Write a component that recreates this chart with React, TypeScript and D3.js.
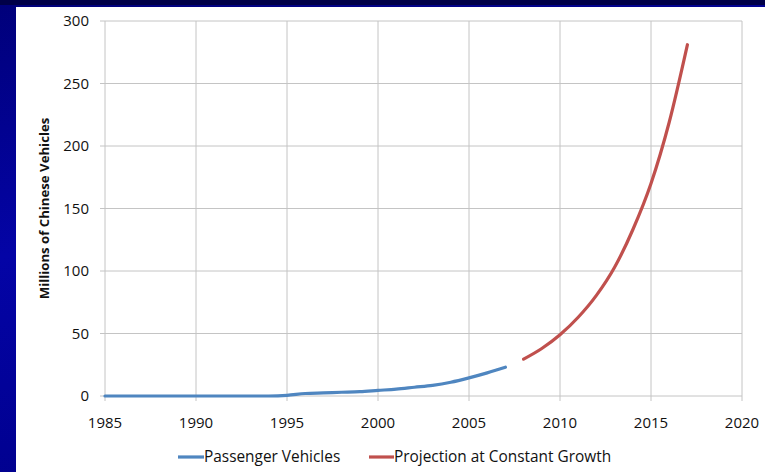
import React from "react";
import * as d3 from "d3";

const passengerYears = [1985, 1986, 1987, 1988, 1989, 1990, 1991, 1992, 1993, 1994, 1995, 1996, 1997, 1998, 1999, 2000, 2001, 2002, 2003, 2004, 2005, 2006, 2007];
const passengerValues = [0, 0, 0, 0, 0, 0, 0, 0, 0, 0, 0.5, 2, 2.5, 3, 3.5, 4.5, 5.5, 7, 8.5, 11, 14.5, 18.5, 23];
const projectionYears = [2008, 2009, 2010, 2011, 2012, 2013, 2014, 2015, 2016, 2017];
const projectionValues = [29.5, 38, 49, 63, 80.5, 103, 133, 170, 219, 281];
const xTicks = [1985, 1990, 1995, 2000, 2005, 2010, 2015, 2020];
const yTicks = [0, 50, 100, 150, 200, 250, 300];
const seriesNames = ["Passenger Vehicles", "Projection at Constant Growth"];

const W = 765, H = 472;
const font = "'Open Sans', 'Liberation Sans', sans-serif";

export default function App() {
  const x = d3.scaleLinear().domain([1985, 2020]).range([105, 742]);
  const y = d3.scaleLinear().domain([0, 300]).range([396, 21]);
  const line = d3.line<[number, number]>().x(d => x(d[0])).y(d => y(d[1])).curve(d3.curveMonotoneX);
  const blue = "#4f86c0";
  const red = "#c0504d";
  const grid = "#c4c4c4";
  const pData = passengerYears.map((yr, i) => [yr, passengerValues[i]] as [number, number]);
  const rData = projectionYears.map((yr, i) => [yr, projectionValues[i]] as [number, number]);
  return (
    <svg width={W} height={H} style={{ position: "absolute", left: 0, top: 0 }}>
      <defs>
        <linearGradient id="bg" x1="0" y1="0" x2="0.3" y2="1">
          <stop offset="0" stopColor="#00007a" />
          <stop offset="0.5" stopColor="#0404a6" />
          <stop offset="1" stopColor="#00008c" />
        </linearGradient>
      </defs>
      <rect x={0} y={0} width={W} height={H} fill="url(#bg)" />
      <rect x={0} y={0} width={W} height={5} fill="#000048" />
      <rect x={16} y={7} width={W - 16} height={H - 7} fill="#ffffff" />
      {xTicks.map(t => (
        <line key={"gx" + t} x1={x(t)} x2={x(t)} y1={y(300)} y2={y(0) + 5} stroke={grid} strokeWidth={1} />
      ))}
      {yTicks.map(t => (
        <line key={"gy" + t} x1={x(1985) - 5} x2={x(2020)} y1={y(t)} y2={y(t)} stroke={grid} strokeWidth={1} />
      ))}
      {yTicks.map(t => (
        <text key={"ty" + t} x={89} y={y(t)} dy="0.35em" textAnchor="end" fontFamily={font} fontSize={15} fill="#111">{t}</text>
      ))}
      {xTicks.map(t => (
        <text key={"tx" + t} x={x(t)} y={428} textAnchor="middle" fontFamily={font} fontSize={15} fill="#111">{t}</text>
      ))}
      <text transform={`translate(49,${y(150)}) rotate(-90)`} textAnchor="middle" fontFamily={font} fontSize={13.2} fontWeight="bold" fill="#111">Millions of Chinese Vehicles</text>
      <path d={line(pData) || ""} fill="none" stroke={blue} strokeWidth={3.2} strokeLinecap="round" />
      <path d={line(rData) || ""} fill="none" stroke={red} strokeWidth={3.2} strokeLinecap="round" />
      <line x1={178} x2={204} y1={457} y2={457} stroke={blue} strokeWidth={3.2} />
      <text x={204} y={457} dy="0.35em" fontFamily={font} fontSize={15.4} fill="#111">{seriesNames[0]}</text>
      <line x1={369} x2={394} y1={457} y2={457} stroke={red} strokeWidth={3.2} />
      <text x={394} y={457} dy="0.35em" fontFamily={font} fontSize={15.4} fill="#111">{seriesNames[1]}</text>
    </svg>
  );
}
